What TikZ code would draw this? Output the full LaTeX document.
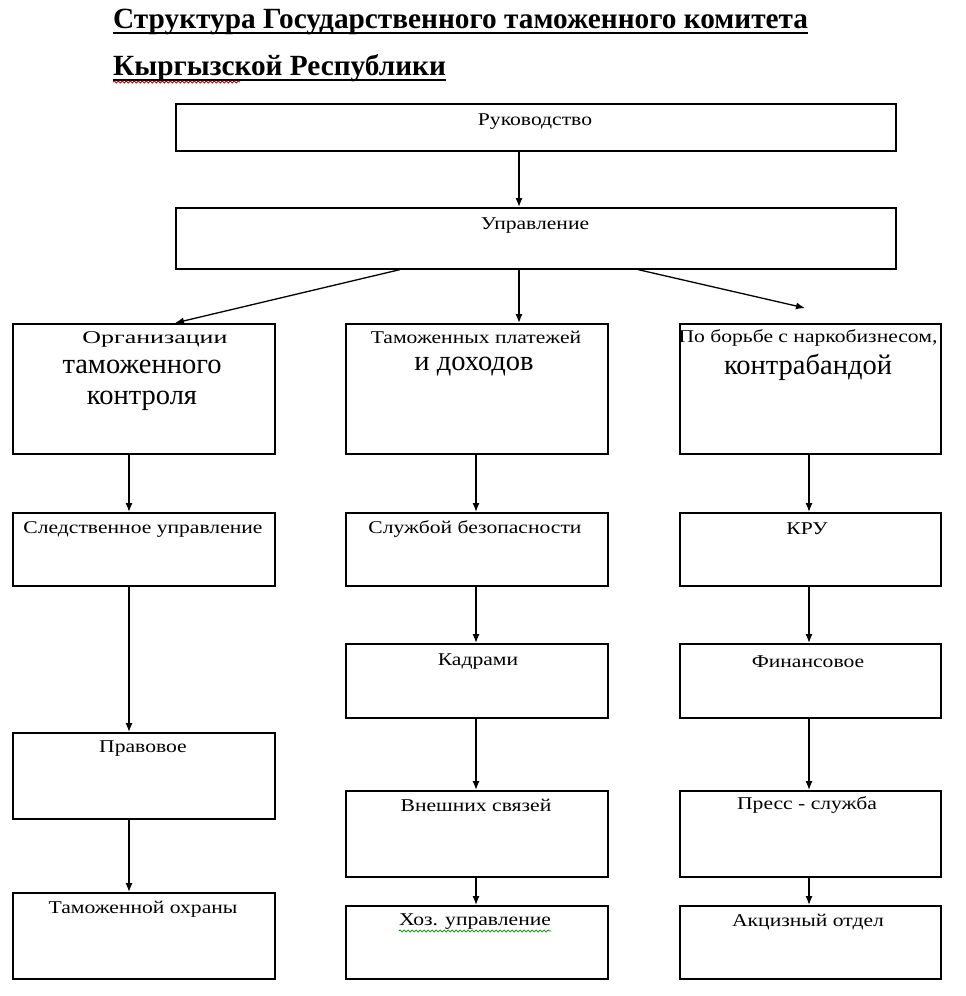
\documentclass[tikz,border=0pt]{standalone}
\usepackage{fontspec}
\setmainfont{Liberation Serif}
\newfontfamily\smfont[FakeStretch=1.2]{Liberation Serif}
\usetikzlibrary{arrows.meta,decorations.pathmorphing,calc}
\begin{document}
\begin{tikzpicture}[x=1pt,y=-1pt,
  box/.style={draw, line width=1.6pt, rectangle, inner sep=0, anchor=north west},
  lbl/.style={inner sep=0, font=\smfont\fontsize{18}{21}\selectfont},
  big/.style={inner sep=0, font=\fontsize{28.5}{31}\selectfont, align=center},
  arr/.style={line width=1.3pt, -{Latex[length=9pt,width=7pt]}},
  ttl/.style={inner sep=0, anchor=base west, font=\bfseries\fontsize{29.3}{32}\selectfont},
  uline/.style={line width=2pt},
  squig/.style={line width=0.8pt, decorate, decoration={snake, amplitude=1pt, segment length=4pt}},
]
\useasboundingbox[fill=white] (0,0) rectangle (966,996);

% title
\node[ttl] (t1) at (113,28) {Структура Государственного таможенного комитета};
\node[ttl] (t2) at (113,75) {Кыргызской Республики};
\draw[uline] ($(t1.base west)+(0,5)$) -- ($(t1.base east)+(0,5)$);
\draw[uline] ($(t2.base west)+(0,5)$) -- ($(t2.base east)+(0,5)$);
\coordinate (sqend) at (240,82);
\draw[squig, red!75!black] ($(t2.base west)+(0,7)$) -- (sqend);

% boxes
\node[box, minimum width=720, minimum height=47] (ruk) at (175,103) {};
\node[box, minimum width=720, minimum height=61] (upr) at (175,207) {};
\node[box, minimum width=262, minimum height=130] (c1) at (12,323) {};
\node[box, minimum width=262, minimum height=130] (c2) at (345,323) {};
\node[box, minimum width=261, minimum height=130] (c3) at (679,323) {};
\node[box, minimum width=262, minimum height=73] (sled) at (12,512) {};
\node[box, minimum width=262, minimum height=73] (sluzh) at (345,512) {};
\node[box, minimum width=261, minimum height=73] (kru) at (679,512) {};
\node[box, minimum width=262, minimum height=74] (kadr) at (345,643) {};
\node[box, minimum width=261, minimum height=74] (fin) at (679,643) {};
\node[box, minimum width=262, minimum height=86] (prav) at (12,732) {};
\node[box, minimum width=262, minimum height=86] (vnesh) at (345,790) {};
\node[box, minimum width=261, minimum height=86] (press) at (679,790) {};
\node[box, minimum width=262, minimum height=86] (tam) at (12,892) {};
\node[box, minimum width=262, minimum height=73] (hoz) at (345,905) {};
\node[box, minimum width=261, minimum height=73] (akc) at (679,905) {};

% labels
\node[lbl] (ruk-t) at (535,122) {Руководство};
\node[lbl] (upr-t) at (535,226) {Управление};
\node[lbl] (c1-t) at (155,339) {\resizebox{145pt}{\height}{Организации}};
\node[big] (c1-b) at (142,385) {таможенного\\контроля};
\node[lbl] (c2-t) at (476,337) {Таможенных платежей};
\node[big] (c2-b) at (474,367) {и доходов};
\node[lbl] (c3-t) at (808,338) {По борьбе с наркобизнесом,};
\node[big] (c3-b) at (808,367) {контрабандой};
\node[lbl] (sled-t) at (143,529) {Следственное управление};
\node[lbl] (sluzh-t) at (475,529) {Службой безопасности};
\node[lbl] (kru-t) at (807,529) {КРУ};
\node[lbl] (kadr-t) at (478,662) {Кадрами};
\node[lbl] (fin-t) at (808,662) {Финансовое};
\node[lbl] (prav-t) at (143,749) {Правовое};
\node[lbl] (vnesh-t) at (476,805) {Внешних связей};
\node[lbl] (press-t) at (807,805) {Пресс - служба};
\node[lbl] (tam-t) at (143,909) {Таможенной охраны};
\node[lbl] (hoz-t) at (475,922) {Хоз. управление};
\node[lbl] (akc-t) at (808,922) {Акцизный отдел};
\draw[squig, green!55!black] ($(hoz-t.base west)+(0,5)$) -- ($(hoz-t.base east)+(0,5)$);

% helper x positions
\coordinate (xm) at (519,0);
\coordinate (xu1) at (400,0);
\coordinate (xd1) at (175,0);
\coordinate (xu3) at (638,0);
\coordinate (e3) at (805,308);
\coordinate (xl) at (129,0);
\coordinate (xc) at (476,0);
\coordinate (xr) at (809,0);

% connectors
\draw[arr] (ruk.south -| xm) -- (upr.north -| xm);
\draw[arr] (upr.south -| xu1) -- (c1.north -| xd1);
\draw[arr] (upr.south -| xm) -- (c2.north -| xm);
\draw[arr] (upr.south -| xu3) -- (e3);

\draw[arr] (c1.south -| xl) -- (sled.north -| xl);
\draw[arr] (sled.south -| xl) -- (prav.north -| xl);
\draw[arr] (prav.south -| xl) -- (tam.north -| xl);

\draw[arr] (c2.south -| xc) -- (sluzh.north -| xc);
\draw[arr] (sluzh.south -| xc) -- (kadr.north -| xc);
\draw[arr] (kadr.south -| xc) -- (vnesh.north -| xc);
\draw[arr] (vnesh.south -| xc) -- (hoz.north -| xc);

\draw[arr] (c3.south -| xr) -- (kru.north -| xr);
\draw[arr] (kru.south -| xr) -- (fin.north -| xr);
\draw[arr] (fin.south -| xr) -- (press.north -| xr);
\draw[arr] (press.south -| xr) -- (akc.north -| xr);
\end{tikzpicture}
\end{document}
